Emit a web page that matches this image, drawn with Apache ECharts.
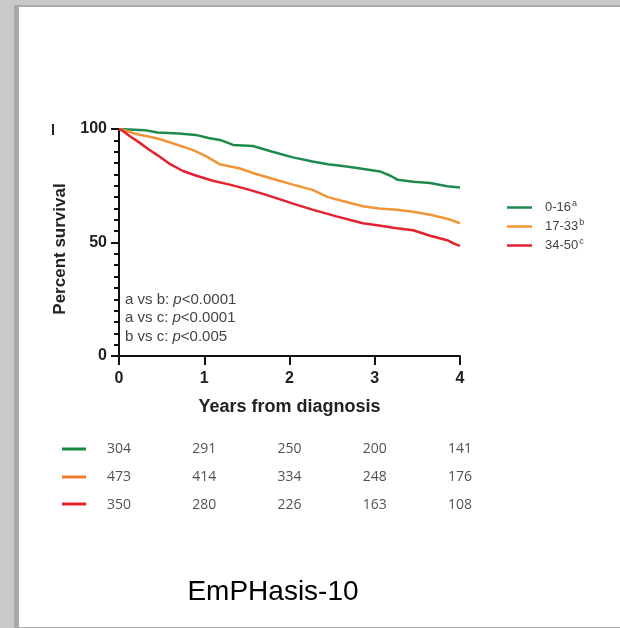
<!DOCTYPE html>
<html>
<head>
<meta charset="utf-8">
<script src="https://cdn.jsdelivr.net/npm/echarts@6/dist/echarts.min.js"></script>
<style>
  html, body { margin: 0; padding: 0; background: #c9c9c9; }
  #chart { width: 620px; height: 628px; }
</style>
</head>
<body>
<div id="chart"></div>
<script>
// survival curves: [years, percent]
var greenCurve = [[0, 100], [0.3, 99.5], [0.45, 98.5], [0.7, 98], [0.9, 97.4], [1.05, 96], [1.2, 95], [1.34, 93],
  [1.57, 92.5], [1.8, 90], [2.04, 87.5], [2.27, 85.7], [2.45, 84.5], [2.67, 83.5], [2.85, 82.5], [3.06, 81.3],
  [3.19, 79.3], [3.27, 77.6], [3.45, 76.8], [3.65, 76.2], [3.85, 74.8], [4, 74.2]]
var orangeCurve = [[0, 100], [0.1, 99], [0.2, 97.8], [0.44, 95.9], [0.63, 93.7], [0.87, 90.7], [1.03, 87.8],
  [1.18, 84.5], [1.42, 82.6], [1.57, 80.6], [1.81, 78], [2.04, 75.5], [2.27, 73.2], [2.45, 70], [2.6, 68.5],
  [2.86, 66], [3.05, 65], [3.26, 64.4], [3.45, 63.5], [3.65, 62.2], [3.85, 60.5], [4, 58.5]]
var redCurve = [[0, 100], [0.05, 99], [0.12, 97], [0.24, 94], [0.35, 91], [0.45, 88.5], [0.6, 84.5],
  [0.75, 81.5], [0.9, 79.5], [1.1, 77.2], [1.3, 75.5], [1.5, 73.5], [1.7, 71.3], [1.89, 69], [2.05, 67],
  [2.27, 64.5], [2.55, 61.5], [2.86, 58.5], [3.05, 57.5], [3.26, 56.3], [3.45, 55.4], [3.65, 53],
  [3.85, 51], [3.93, 49.5], [4, 48.5]]

var groupNames = ['0-16', '17-33', '34-50']
var groupSup = ['a', 'b', 'c']
var groupColors = ['#1f8a4e', '#f29438', '#e3222f']

// numbers at risk
var riskYears = [0, 1, 2, 3, 4]
var riskGreen = [304, 291, 250, 200, 141]
var riskOrange = [473, 414, 334, 248, 176]
var riskRed = [350, 280, 226, 163, 108]

var pValues = ['a vs b: ', 'a vs c: ', 'b vs c: ']
var pTexts = ['<0.0001', '<0.0001', '<0.005']

var chart = echarts.init(document.getElementById('chart'))

function riskSeries (name, vals) {
  return {
    type: 'scatter',
    xAxisIndex: 1,
    yAxisIndex: 1,
    symbolSize: 0,
    itemStyle: { color: 'rgba(0,0,0,0)' },
    silent: true,
    label: {
      show: true,
      position: 'inside',
      color: '#262626',
      fontFamily: 'Open Sans',
      fontSize: 14,
      formatter: function (p) { return p.value[2] }
    },
    data: riskYears.map(function (y, i) { return [y, name, vals[i]] })
  }
}

function curveSeries (i, data) {
  return {
    name: groupNames[i],
    type: 'line',
    symbol: 'none',
    lineStyle: { color: groupColors[i], width: 2.5 },
    itemStyle: { color: groupColors[i] },
    data: data
  }
}

var pRich = pValues.map(function (a, i) {
  return '{n|' + a + '}{i|p}{n|' + pTexts[i] + '}'
}).join('\n')

var option = {
  animation: false,
  backgroundColor: '#c9c9c9',
  textStyle: { fontFamily: 'Liberation Sans' },
  graphic: [
    { type: 'rect', shape: { x: 14, y: 5, width: 606, height: 623 }, style: { fill: '#a9a9a9' }, z: -10 },
    { type: 'rect', shape: { x: 19, y: 7, width: 601, height: 620 }, style: { fill: '#ffffff' }, z: -9 },
    { type: 'line', shape: { x1: 53, y1: 124, x2: 53, y2: 135 }, style: { stroke: '#222', lineWidth: 2 } },
    {
      type: 'text', x: 60, y: 249, rotation: Math.PI / 2,
      style: { text: 'Percent survival', fontSize: 17, fontWeight: 'bold', fill: '#222', fontFamily: 'Liberation Sans', align: 'center', verticalAlign: 'middle' }
    },
    {
      type: 'text', left: 125, top: 292,
      style: {
        text: pRich,
        rich: {
          n: { fontSize: 15, fill: '#444', fontFamily: 'Liberation Sans', lineHeight: 18.5 },
          i: { fontSize: 15, fill: '#444', fontStyle: 'italic', fontFamily: 'Liberation Sans', lineHeight: 18.5 }
        }
      }
    },
    { type: 'line', shape: { x1: 62, y1: 449, x2: 86, y2: 449 }, style: { stroke: '#1a8a40', lineWidth: 3 } },
    { type: 'line', shape: { x1: 62, y1: 477, x2: 86, y2: 477 }, style: { stroke: '#f27b30', lineWidth: 3 } },
    { type: 'line', shape: { x1: 62, y1: 504, x2: 86, y2: 504 }, style: { stroke: '#e2202e', lineWidth: 3 } },
    {
      type: 'text', x: 273, y: 592,
      style: { text: 'EmPHasis-10', fontSize: 28, fill: '#000', fontFamily: 'Liberation Sans', align: 'center', verticalAlign: 'middle' }
    }
  ],
  legend: {
    data: groupNames,
    orient: 'vertical',
    left: 502,
    top: 194,
    icon: 'rect',
    itemWidth: 25,
    itemHeight: 2.5,
    itemGap: 4,
    formatter: function (name) {
      return '{t|' + name + '}{s|' + groupSup[groupNames.indexOf(name)] + '}'
    },
    textStyle: {
      rich: {
        t: { fontSize: 13, color: '#444', fontFamily: 'Liberation Sans', padding: [0, 0, 0, 8] },
        s: { fontSize: 9, color: '#444', fontFamily: 'Liberation Sans', verticalAlign: 'top', padding: [0, 0, 8, 1] }
      }
    }
  },
  grid: [
    { left: 119, right: 160, top: 129, bottom: 272 },
    { left: 119, right: 160, top: 435, height: 84 }
  ],
  xAxis: [{
    type: 'value',
    min: 0,
    max: 4,
    interval: 1,
    name: 'Years from diagnosis',
    nameLocation: 'middle',
    nameGap: 42,
    nameTextStyle: { fontSize: 18, fontWeight: 'bold', color: '#222' },
    axisLine: { lineStyle: { color: '#111', width: 2 } },
    axisTick: { length: 9, lineStyle: { color: '#111', width: 2 } },
    axisLabel: { fontSize: 16, fontWeight: 'bold', color: '#222', margin: 15 },
    splitLine: { show: false }
  }, {
    type: 'value', gridIndex: 1, min: 0, max: 4, show: false
  }],
  yAxis: [{
    type: 'value',
    min: 0,
    max: 100,
    interval: 50,
    axisLine: { show: true, lineStyle: { color: '#111', width: 2 } },
    axisTick: { show: true, length: 8, lineStyle: { color: '#111', width: 2 } },
    minorTick: { show: true, splitNumber: 10, length: 5, lineStyle: { color: '#111', width: 2 } },
    axisLabel: { fontSize: 16, fontWeight: 'bold', color: '#222', margin: 12 },
    splitLine: { show: false }
  }, {
    type: 'category', gridIndex: 1, data: ['g', 'o', 'r'], inverse: true, show: false
  }],
  series: [
    curveSeries(0, greenCurve),
    curveSeries(1, orangeCurve),
    curveSeries(2, redCurve),
    riskSeries('g', riskGreen),
    riskSeries('o', riskOrange),
    riskSeries('r', riskRed)
  ]
}

chart.setOption(option)
</script>
</body>
</html>
